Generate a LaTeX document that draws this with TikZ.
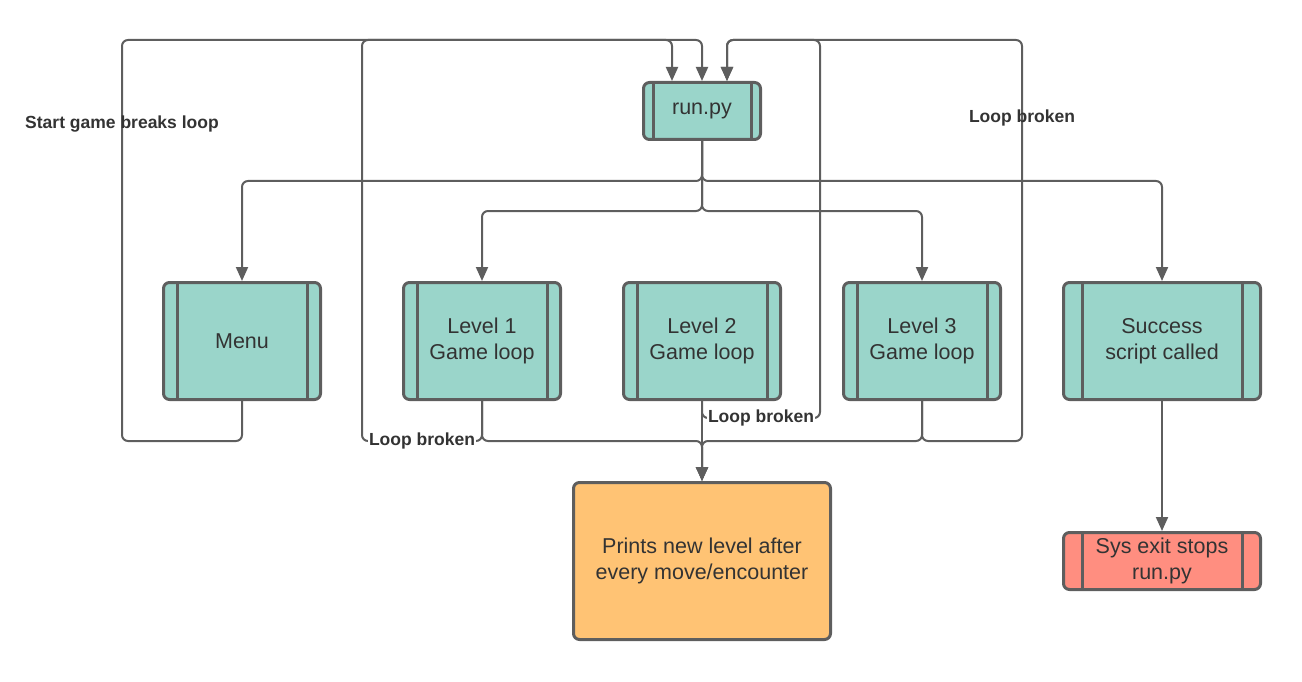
\documentclass[tikz,border=0pt]{standalone}
\usepackage{fontspec}
\setmainfont{Liberation Sans}
\usetikzlibrary{arrows.meta}
\definecolor{teal1}{HTML}{9AD5CA}
\definecolor{bordc}{HTML}{5E5E5E}
\definecolor{txtc}{HTML}{333333}
\definecolor{orng}{HTML}{FFC374}
\definecolor{redb}{HTML}{FF8E80}
\begin{document}
\begin{tikzpicture}[x=1pt,y=-1pt,
  box/.style={draw=bordc,line width=3pt,rounded corners=6pt,text=txtc,
    font=\fontsize{21.5}{26.5}\selectfont,align=center,inner sep=0pt},
  subproc/.style={box,fill=teal1,
    path picture={\draw[bordc,line width=3pt]
      ([xshift=#1]path picture bounding box.north west) -- ([xshift=#1]path picture bounding box.south west)
      ([xshift=-#1]path picture bounding box.north east) -- ([xshift=-#1]path picture bounding box.south east);}},
  subproc/.default=13.5,
  conn/.style={draw=bordc,line width=2pt,rounded corners=6pt,-{Triangle[length=14pt,width=12pt]}},
  plain/.style={draw=bordc,line width=2pt,rounded corners=6pt},
  lbl/.style={font=\fontsize{17.5}{20}\selectfont\bfseries,text=txtc,fill=white,inner sep=1pt},
  vlbl/.style={font=\fontsize{17.5}{20}\selectfont\bfseries,text=txtc,inner sep=0pt}]
\useasboundingbox (0,0) rectangle (1302,682);

\node[subproc=9.5,minimum width=117pt,minimum height=57pt] (run) at (702,111) {run.py};
\node[subproc,minimum width=157pt,minimum height=117pt] (menu) at (242,341) {Menu};
\node[subproc,minimum width=157pt,minimum height=117pt] (l1) at (482,341) {Level 1\\Game loop};
\node[subproc,minimum width=157pt,minimum height=117pt] (l2) at (702,341) {Level 2\\Game loop};
\node[subproc,minimum width=157pt,minimum height=117pt] (l3) at (922,341) {Level 3\\Game loop};
\node[subproc=18.5,minimum width=197pt,minimum height=117pt] (succ) at (1162,341) {Success\\script called};
\node[subproc=18.5,minimum width=197pt,minimum height=57pt,fill=redb] (sys) at (1162,561) {Sys exit stops\\run.py};
\node[box,fill=orng,minimum width=257pt,minimum height=157pt] (prints) at (702,561) {Prints new level after\\every move/encounter};

% from run.py
\draw[conn] (run.south) -- ++(0,40) -| (menu.north);
\draw[conn] (run.south) -- ++(0,40) -| (succ.north);
\draw[conn] (run.south) -- ++(0,70) -| (l1.north);
\draw[conn] (run.south) -- ++(0,70) -| (l3.north);

% to prints
\draw[conn] (l1.south) -- ++(0,40) -| (prints.north);
\draw[conn] (l3.south) -- ++(0,40) -| (prints.north);
\draw[conn] (l2.south) -- (prints.north);

% loops back to run.py
\draw[conn] (menu.south) -- ++(0,40) -- (122,441)
  -- node[vlbl,pos=0.79] {Start game breaks loop} (122,40) -| (run.north);
\draw[conn] (l1.south) -- ++(0,40) -- node[lbl] {Loop broken} (362,441)
  -- (362,40) -| ([xshift=-30pt]run.north);
\draw[conn] (l2.south) -- ++(0,17) -- node[lbl] {Loop broken} (820,418)
  -- (820,40) -| ([xshift=25pt]run.north);
\draw[conn] (l3.south) -- ++(0,40) -- (1022,441)
  -- node[vlbl,pos=0.805] {Loop broken} (1022,40) -| ([xshift=25pt]run.north);

% success to exit
\draw[conn] (succ.south) -- (sys.north);
\end{tikzpicture}
\end{document}
